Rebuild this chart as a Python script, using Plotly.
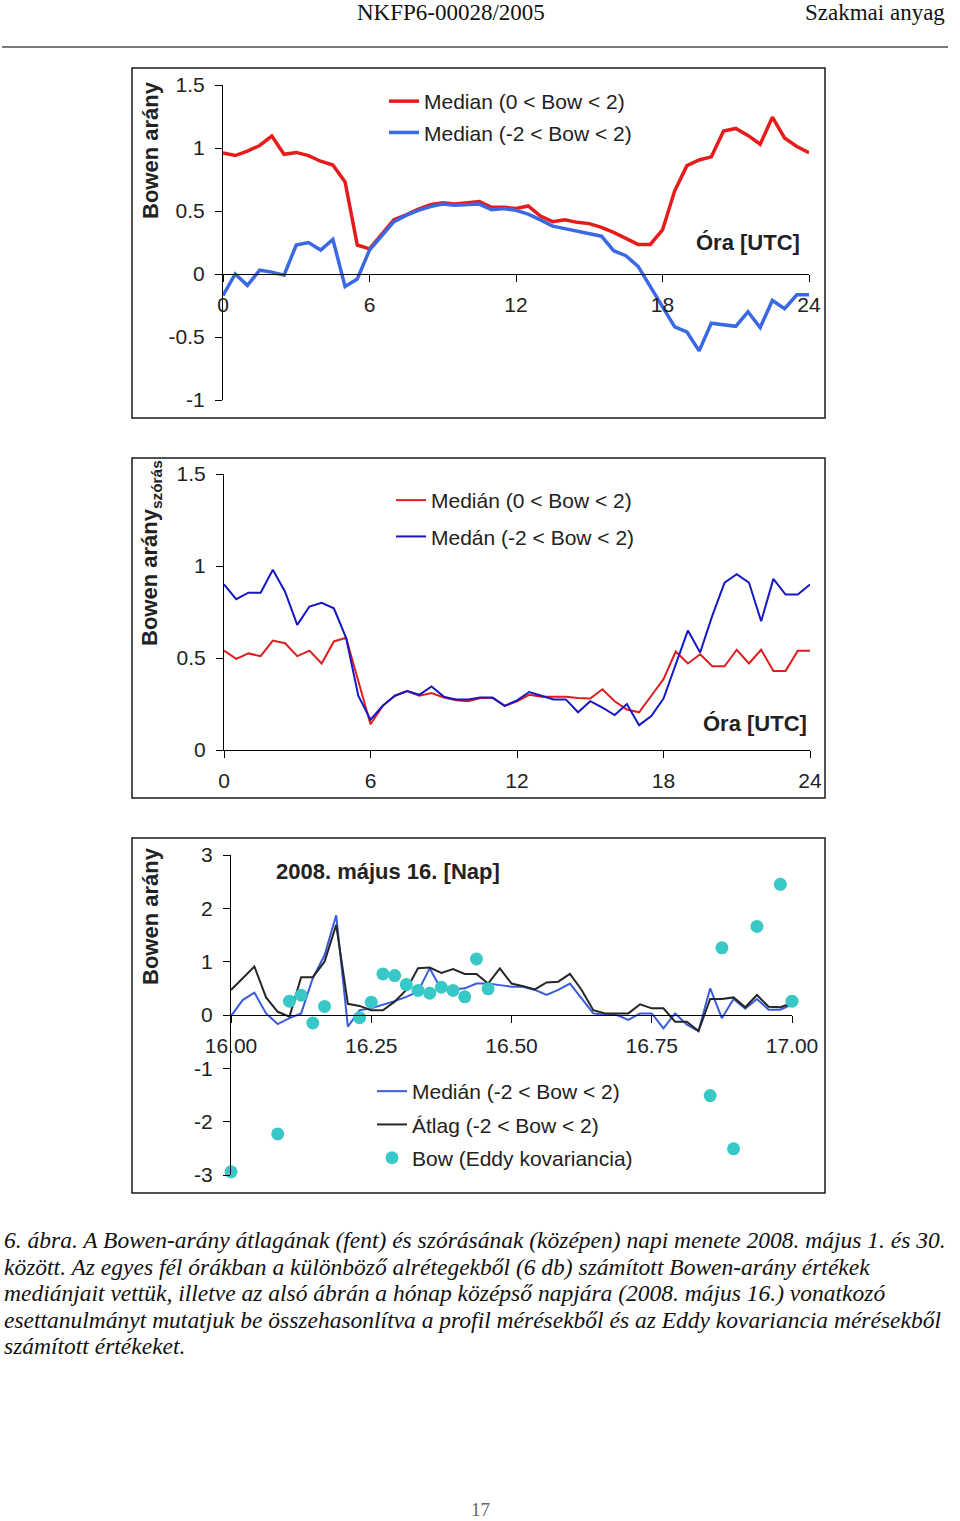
import plotly.graph_objects as go

W, H = 960, 1521

def X(px):
    return px / W

def Y(py):
    return 1 - py / H

# ---------------- data ----------------
hours = [0, 0.5, 1, 1.5, 2, 2.5, 3, 3.5, 4, 4.5, 5, 5.5, 6, 6.5, 7, 7.5, 8, 8.5,
         9, 9.5, 10, 10.5, 11, 11.5, 12, 12.5, 13, 13.5, 14, 14.5, 15, 15.5, 16,
         16.5, 17, 17.5, 18, 18.5, 19, 19.5, 20, 20.5, 21, 21.5, 22, 22.5, 23,
         23.5, 24]

# top panel: Bowen ratio medians (monthly mean daily course)
top_median_pos = [0.96, 0.94, 0.975, 1.02, 1.095, 0.95, 0.965, 0.94, 0.895, 0.865,
                  0.73, 0.23, 0.2, 0.31, 0.43, 0.47, 0.515, 0.55, 0.565, 0.555,
                  0.565, 0.575, 0.53, 0.53, 0.52, 0.54, 0.46, 0.415, 0.43, 0.41,
                  0.40, 0.37, 0.33, 0.28, 0.235, 0.235, 0.35, 0.66, 0.86, 0.905,
                  0.93, 1.135, 1.155, 1.1, 1.03, 1.245, 1.08, 1.012, 0.962]
top_median_all = [-0.17, 0.0, -0.09, 0.03, 0.015, -0.01, 0.23, 0.25, 0.19, 0.275,
                  -0.10, -0.04, 0.19, 0.30, 0.415, 0.465, 0.505, 0.535, 0.555, 0.545,
                  0.55, 0.555, 0.51, 0.52, 0.505, 0.475, 0.43, 0.38, 0.36, 0.34,
                  0.32, 0.30, 0.185, 0.145, 0.06, -0.10, -0.25, -0.42, -0.46, -0.61,
                  -0.39, -0.40, -0.415, -0.30, -0.425, -0.21, -0.275, -0.165, -0.165]

# middle panel: standard deviation of Bowen ratio
mid_median_pos = [0.54, 0.495, 0.525, 0.51, 0.595, 0.58, 0.51, 0.54, 0.47, 0.59,
                  0.61, 0.37, 0.14, 0.24, 0.295, 0.32, 0.295, 0.31, 0.285, 0.27,
                  0.265, 0.283, 0.283, 0.24, 0.265, 0.30, 0.29, 0.29, 0.29, 0.283,
                  0.28, 0.33, 0.265, 0.22, 0.205, 0.295, 0.385, 0.535, 0.47, 0.52,
                  0.455, 0.455, 0.545, 0.47, 0.545, 0.43, 0.43, 0.54, 0.54]
mid_median_all = [0.90, 0.82, 0.855, 0.855, 0.98, 0.86, 0.68, 0.78, 0.80, 0.77,
                  0.61, 0.295, 0.165, 0.24, 0.295, 0.32, 0.30, 0.345, 0.29, 0.275,
                  0.275, 0.285, 0.285, 0.24, 0.27, 0.315, 0.295, 0.275, 0.275, 0.205,
                  0.265, 0.23, 0.19, 0.25, 0.135, 0.185, 0.28, 0.46, 0.65, 0.53,
                  0.73, 0.91, 0.955, 0.91, 0.70, 0.93, 0.845, 0.845, 0.90]

# bottom panel: 16 May 2008 case study
day_time = [16.0, 16.0208, 16.0417, 16.0625, 16.0833, 16.1042, 16.125, 16.1458,
            16.1667, 16.1875, 16.2083, 16.2292, 16.25, 16.2708, 16.2917, 16.3125,
            16.3333, 16.3542, 16.375, 16.3958, 16.4167, 16.4375, 16.4583, 16.4792,
            16.5, 16.5208, 16.5417, 16.5625, 16.5833, 16.6042, 16.625, 16.6458,
            16.6667, 16.6875, 16.7083, 16.7292, 16.75, 16.7708, 16.7917, 16.8125,
            16.8333, 16.8542, 16.875, 16.8958, 16.9167, 16.9375, 16.9583, 16.9792,
            17.0]
day_median = [-0.02, 0.28, 0.42, 0.03, -0.17, -0.06, 0.03, 0.69, 1.12, 1.87,
              -0.22, 0.09, 0.125, 0.19, 0.26, 0.34, 0.44, 0.875, 0.47, 0.48,
              0.50, 0.59, 0.59, 0.56, 0.53, 0.53, 0.47, 0.375, 0.47, 0.59,
              0.30, 0.03, 0.0, 0.0, -0.09, 0.03, 0.03, -0.25, 0.03, -0.18,
              -0.30, 0.50, -0.06, 0.30, 0.12, 0.30, 0.10, 0.10, 0.20]
day_mean = [0.47, 0.69, 0.91, 0.33, 0.06, -0.03, 0.71, 0.71, 1.0, 1.69,
            0.21, 0.17, 0.09, 0.09, 0.25, 0.47, 0.875, 0.89, 0.79, 0.86,
            0.77, 0.77, 0.59, 0.875, 0.59, 0.54, 0.48, 0.61, 0.625, 0.77,
            0.47, 0.09, 0.03, 0.03, 0.03, 0.2, 0.125, 0.125, -0.125, -0.125,
            -0.3, 0.3, 0.3, 0.33, 0.145, 0.375, 0.155, 0.145, 0.22]
eddy_time = [16.0, 16.0833, 16.1042, 16.125, 16.1458, 16.1667, 16.2292, 16.25,
             16.2708, 16.2917, 16.3125, 16.3333, 16.3542, 16.375, 16.3958, 16.4167,
             16.4375, 16.4583, 16.8542, 16.875, 16.8958, 16.9375, 16.9792, 17.0]
eddy_bowen = [-2.94, -2.23, 0.26, 0.37, -0.15, 0.16, -0.05, 0.24, 0.77, 0.74,
              0.57, 0.46, 0.41, 0.52, 0.46, 0.34, 1.05, 0.49, -1.51, 1.26,
              -2.51, 1.66, 2.45, 0.26]

hour_ticks = [0, 6, 12, 18, 24]
top_yticks = [1.5, 1, 0.5, 0, -0.5, -1]
top_ytext = ["1.5", "1", "0.5", "0", "-0.5", "-1"]
mid_yticks = [1.5, 1, 0.5, 0]
mid_ytext = ["1.5", "1", "0.5", "0"]
day_xticks = [16.0, 16.25, 16.5, 16.75, 17.0]
day_xtext = ["16.00", "16.25", "16.50", "16.75", "17.00"]
day_yticks = [3, 2, 1, 0, -1, -2, -3]
day_ytext = ["3", "2", "1", "0", "-1", "-2", "-3"]

SANS = "Liberation Sans, Arial, sans-serif"
SERIF = "Liberation Serif, Times New Roman, serif"

fig = go.Figure()

# --- top panel
fig.add_trace(go.Scatter(x=hours, y=top_median_pos, mode="lines",
                         name="Median (0 < Bow < 2)",
                         line=dict(color="#E81B1B", width=3.5),
                         xaxis="x", yaxis="y", legend="legend", legendgroup="a"))
fig.add_trace(go.Scatter(x=hours, y=top_median_all, mode="lines",
                         name="Median (-2 < Bow < 2)",
                         line=dict(color="#3B68E3", width=3.5),
                         xaxis="x", yaxis="y", legend="legend", legendgroup="b"))
# --- middle panel
fig.add_trace(go.Scatter(x=hours, y=mid_median_pos, mode="lines",
                         name="Medián (0 < Bow < 2)",
                         line=dict(color="#DC1E1E", width=2),
                         xaxis="x2", yaxis="y2", legend="legend2", legendgroup="c"))
fig.add_trace(go.Scatter(x=hours, y=mid_median_all, mode="lines",
                         name="Medán (-2 < Bow < 2)",
                         line=dict(color="#1717C4", width=2),
                         xaxis="x2", yaxis="y2", legend="legend2", legendgroup="d"))
# --- bottom panel
fig.add_trace(go.Scatter(x=day_time, y=day_median, mode="lines",
                         name="Medián (-2 < Bow < 2)",
                         line=dict(color="#3A5BDC", width=2),
                         xaxis="x3", yaxis="y3", legend="legend3", legendgroup="e"))
fig.add_trace(go.Scatter(x=day_time, y=day_mean, mode="lines",
                         name="Átlag (-2 < Bow < 2)",
                         line=dict(color="#262626", width=2),
                         xaxis="x3", yaxis="y3", legend="legend3", legendgroup="f"))
fig.add_trace(go.Scatter(x=eddy_time, y=eddy_bowen, mode="markers",
                         name="Bow (Eddy kovariancia)",
                         marker=dict(color="#38C8C8", size=13),
                         cliponaxis=False,
                         xaxis="x3", yaxis="y3", legend="legend3", legendgroup="g"))

axis_common = dict(showgrid=False, zeroline=False, showline=True, linecolor="black",
                   linewidth=1, ticks="outside", ticklen=7, tickcolor="black",
                   automargin=False,
                   tickfont=dict(family=SANS, size=21, color="#222"))

LEG_FONT = dict(family=SANS, size=21, color="#222")

fig.update_layout(
    width=W, height=H, autosize=False,
    margin=dict(l=0, r=0, t=0, b=0, pad=0, autoexpand=False),
    paper_bgcolor="white", plot_bgcolor="rgba(0,0,0,0)",
    font=dict(family=SANS, color="#222"),
    hovermode=False,
    xaxis=dict(domain=[X(223), X(809)], range=[0, 24], tickvals=hour_ticks,
               anchor="free", position=Y(274), ticklabelstandoff=5, **axis_common),
    yaxis=dict(domain=[Y(400), Y(85)], range=[-1, 1.5], tickvals=top_yticks,
               ticktext=top_ytext, anchor="x", ticklabelstandoff=6, **axis_common),
    xaxis2=dict(domain=[X(224), X(810)], range=[0, 24], tickvals=hour_ticks,
                anchor="y2", ticklabelstandoff=5, **axis_common),
    yaxis2=dict(domain=[Y(750), Y(474)], range=[0, 1.5], tickvals=mid_yticks,
                ticktext=mid_ytext, anchor="x2", ticklabelstandoff=6, **axis_common),
    xaxis3=dict(domain=[X(231), X(792)], range=[16, 17], tickvals=day_xticks,
                ticktext=day_xtext, anchor="free", position=Y(1015),
                ticklabelstandoff=5, **axis_common),
    yaxis3=dict(domain=[Y(1175), Y(855)], range=[-3, 3], tickvals=day_yticks,
                ticktext=day_ytext, anchor="x3", ticklabelstandoff=6, **axis_common),
    legend=dict(x=X(384), y=Y(81), xanchor="left", yanchor="top",
                bgcolor="rgba(0,0,0,0)", tracegroupgap=1, font=LEG_FONT),
    legend2=dict(x=X(391), y=Y(480), xanchor="left", yanchor="top",
                 bgcolor="rgba(0,0,0,0)", tracegroupgap=6, font=LEG_FONT),
    legend3=dict(x=X(372), y=Y(1071), xanchor="left", yanchor="top",
                 bgcolor="rgba(0,0,0,0)", tracegroupgap=3, font=LEG_FONT),
    showlegend=True,
)

shapes = []
# header rule
shapes.append(dict(type="line", xref="paper", yref="paper", x0=X(2), x1=X(948),
                   y0=Y(47), y1=Y(47), line=dict(color="#7a7a7a", width=2)))
# panel frames
for (x0, y0, x1, y1) in [(132, 68, 825, 418), (132, 458, 825, 798), (132, 838, 825, 1193)]:
    shapes.append(dict(type="rect", xref="paper", yref="paper", x0=X(x0), x1=X(x1),
                       y0=Y(y1), y1=Y(y0), line=dict(color="#1a1a1a", width=1.5)))
fig.update_layout(shapes=shapes)

ann = []
def text(x, y, s, size=20, family=SANS, color="#222", xanchor="center",
         angle=0, bold=False, italic=False):
    if bold:
        s = "<b>" + s + "</b>"
    if italic:
        s = "<i>" + s + "</i>"
    ann.append(dict(x=X(x), y=Y(y), xref="paper", yref="paper", text=s,
                    showarrow=False, xanchor=xanchor, yanchor="middle",
                    textangle=angle, font=dict(family=family, size=size, color=color)))

# header
text(451, 13, "NKFP6-00028/2005", size=23, family=SERIF, color="#111")
text(947, 13, "Szakmai anyag", size=23, family=SERIF, color="#111", xanchor="right")

# axis titles
text(150, 150, "Bowen arány", size=22, angle=-90, bold=True)
text(151, 553, "Bowen arány<sub>szórás</sub>", size=22, angle=-90, bold=True)
text(150, 916, "Bowen arány", size=22, angle=-90, bold=True)

# in-plot labels
text(748, 242, "Óra [UTC]", size=22, bold=True)
text(755, 723, "Óra [UTC]", size=22, bold=True)
text(388, 871, "2008. május 16. [Nap]", size=22, bold=True)

# caption
caption = [
    "6. ábra. A Bowen-arány átlagának (fent) és szórásának (középen) napi menete 2008. május 1. és 30.",
    "között. Az egyes fél órákban a különböző alrétegekből (6 db) számított Bowen-arány értékek",
    "mediánjait vettük, illetve az alsó ábrán a hónap középső napjára (2008. május 16.) vonatkozó",
    "esettanulmányt mutatjuk be összehasonlítva a profil mérésekből és az Eddy kovariancia mérésekből",
    "számított értékeket.",
]
for i, line in enumerate(caption):
    text(2, 1240 + i * 26.5, line, size=23.5, family=SERIF, color="#111",
         xanchor="left", italic=True)

# page number
text(480, 1509, "17", size=19, family=SERIF, color="#666")

fig.update_layout(annotations=ann)

fig.write_html("out.html",
               config={"displayModeBar": False, "staticPlot": True},
               post_script="document.body.style.margin='0';document.body.style.overflow='hidden';")
